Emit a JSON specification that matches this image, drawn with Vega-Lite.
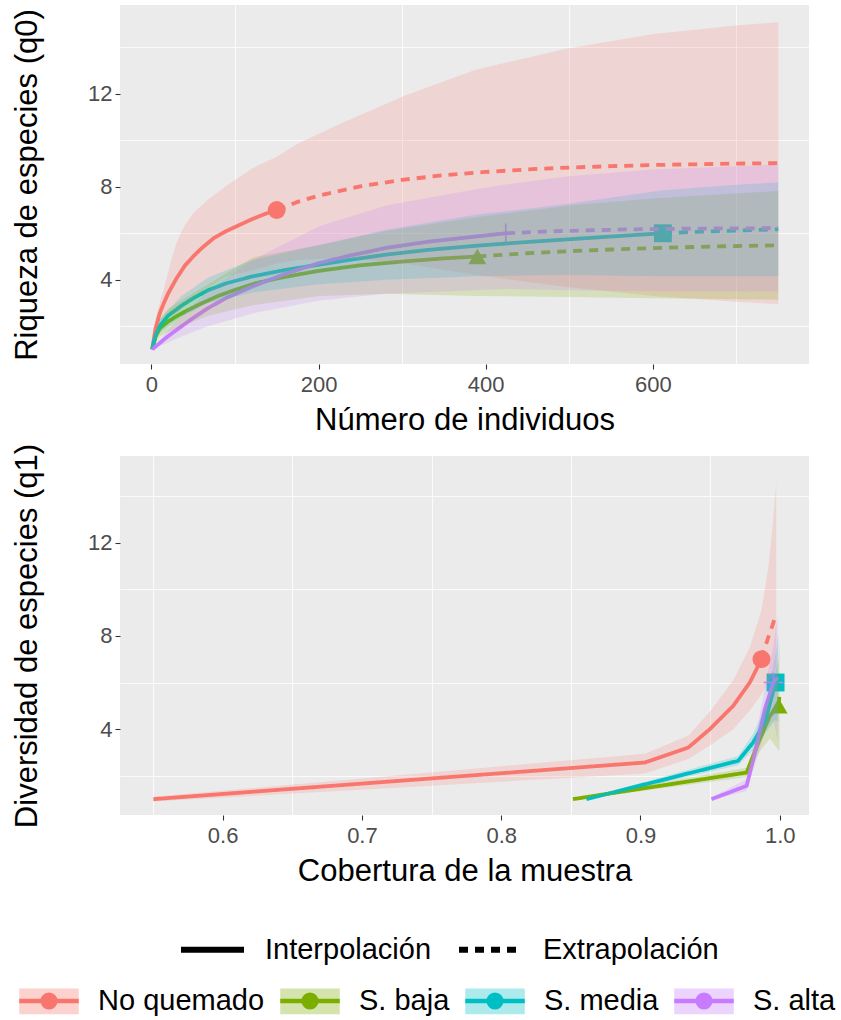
{
  "$schema": "https://vega.github.io/schema/vega-lite/v6.json",
  "background": "white",
  "padding": {"left": 11, "top": 5, "right": 5, "bottom": 0},
  "spacing": 8,
  "config": {
    "font": "Liberation Sans",
    "view": {"fill": "#EBEBEB", "stroke": null},
    "axis": {
      "domain": false,
      "gridColor": "#FFFFFF",
      "gridWidth": 1.6,
      "tickColor": "#333333",
      "tickSize": 5,
      "tickWidth": 1.1,
      "labelFont": "Liberation Sans",
      "labelFontSize": 22,
      "labelColor": "#4D4D4D",
      "titleFont": "Liberation Sans",
      "titleFontSize": 31,
      "titleFontWeight": "normal",
      "titleColor": "#000000"
    },
    "axisX": {"labelPadding": 5, "titlePadding": 10},
    "axisY": {"labelPadding": 3, "titlePadding": 44},
    "legend": {"padding": 0, "offset": 0, "labelLimit": 400}
  },
  "datasets": {
    "obs": [
      {"p": "q0", "grupo": "No quemado", "x": 150, "y": 7.0},
      {"p": "q0", "grupo": "S. baja", "x": 390, "y": 5.0},
      {"p": "q0", "grupo": "S. media", "x": 612, "y": 6.0},
      {"p": "q0", "grupo": "S. alta", "x": 424, "y": 6.0},
      {"p": "q1", "grupo": "No quemado", "x": 0.9869, "y": 7.0},
      {"p": "q1", "grupo": "S. baja", "x": 0.9992, "y": 5.0},
      {"p": "q1", "grupo": "S. media", "x": 0.997, "y": 6.0},
      {"p": "q1", "grupo": "S. alta", "x": 0.9955, "y": 6.0}
    ],
    "curvas": [
      {"p": "q0", "grupo": "No quemado", "metodo": "Interpolación", "x": 1, "y": 1.0},
      {"p": "q0", "grupo": "No quemado", "metodo": "Interpolación", "x": 5, "y": 1.9},
      {"p": "q0", "grupo": "No quemado", "metodo": "Interpolación", "x": 10, "y": 2.55},
      {"p": "q0", "grupo": "No quemado", "metodo": "Interpolación", "x": 15, "y": 3.0},
      {"p": "q0", "grupo": "No quemado", "metodo": "Interpolación", "x": 20, "y": 3.4},
      {"p": "q0", "grupo": "No quemado", "metodo": "Interpolación", "x": 30, "y": 4.05},
      {"p": "q0", "grupo": "No quemado", "metodo": "Interpolación", "x": 40, "y": 4.6},
      {"p": "q0", "grupo": "No quemado", "metodo": "Interpolación", "x": 50, "y": 5.0},
      {"p": "q0", "grupo": "No quemado", "metodo": "Interpolación", "x": 60, "y": 5.35},
      {"p": "q0", "grupo": "No quemado", "metodo": "Interpolación", "x": 75, "y": 5.8},
      {"p": "q0", "grupo": "No quemado", "metodo": "Interpolación", "x": 90, "y": 6.1},
      {"p": "q0", "grupo": "No quemado", "metodo": "Interpolación", "x": 105, "y": 6.35},
      {"p": "q0", "grupo": "No quemado", "metodo": "Interpolación", "x": 120, "y": 6.6},
      {"p": "q0", "grupo": "No quemado", "metodo": "Interpolación", "x": 135, "y": 6.82},
      {"p": "q0", "grupo": "No quemado", "metodo": "Interpolación", "x": 150, "y": 7.0},
      {"p": "q0", "grupo": "No quemado", "metodo": "Extrapolación", "x": 150, "y": 7.0},
      {"p": "q0", "grupo": "No quemado", "metodo": "Extrapolación", "x": 175, "y": 7.35},
      {"p": "q0", "grupo": "No quemado", "metodo": "Extrapolación", "x": 200, "y": 7.62},
      {"p": "q0", "grupo": "No quemado", "metodo": "Extrapolación", "x": 250, "y": 8.02},
      {"p": "q0", "grupo": "No quemado", "metodo": "Extrapolación", "x": 300, "y": 8.3},
      {"p": "q0", "grupo": "No quemado", "metodo": "Extrapolación", "x": 350, "y": 8.5},
      {"p": "q0", "grupo": "No quemado", "metodo": "Extrapolación", "x": 400, "y": 8.64},
      {"p": "q0", "grupo": "No quemado", "metodo": "Extrapolación", "x": 450, "y": 8.75},
      {"p": "q0", "grupo": "No quemado", "metodo": "Extrapolación", "x": 500, "y": 8.83},
      {"p": "q0", "grupo": "No quemado", "metodo": "Extrapolación", "x": 550, "y": 8.89},
      {"p": "q0", "grupo": "No quemado", "metodo": "Extrapolación", "x": 600, "y": 8.94},
      {"p": "q0", "grupo": "No quemado", "metodo": "Extrapolación", "x": 650, "y": 8.97},
      {"p": "q0", "grupo": "No quemado", "metodo": "Extrapolación", "x": 700, "y": 9.0},
      {"p": "q0", "grupo": "No quemado", "metodo": "Extrapolación", "x": 750, "y": 9.02},
      {"p": "q0", "grupo": "S. baja", "metodo": "Interpolación", "x": 1, "y": 1.0},
      {"p": "q0", "grupo": "S. baja", "metodo": "Interpolación", "x": 5, "y": 1.55},
      {"p": "q0", "grupo": "S. baja", "metodo": "Interpolación", "x": 10, "y": 1.9},
      {"p": "q0", "grupo": "S. baja", "metodo": "Interpolación", "x": 20, "y": 2.2},
      {"p": "q0", "grupo": "S. baja", "metodo": "Interpolación", "x": 30, "y": 2.42},
      {"p": "q0", "grupo": "S. baja", "metodo": "Interpolación", "x": 40, "y": 2.62},
      {"p": "q0", "grupo": "S. baja", "metodo": "Interpolación", "x": 60, "y": 2.98},
      {"p": "q0", "grupo": "S. baja", "metodo": "Interpolación", "x": 80, "y": 3.3},
      {"p": "q0", "grupo": "S. baja", "metodo": "Interpolación", "x": 100, "y": 3.56},
      {"p": "q0", "grupo": "S. baja", "metodo": "Interpolación", "x": 125, "y": 3.85},
      {"p": "q0", "grupo": "S. baja", "metodo": "Interpolación", "x": 150, "y": 4.05},
      {"p": "q0", "grupo": "S. baja", "metodo": "Interpolación", "x": 175, "y": 4.22},
      {"p": "q0", "grupo": "S. baja", "metodo": "Interpolación", "x": 200, "y": 4.38},
      {"p": "q0", "grupo": "S. baja", "metodo": "Interpolación", "x": 250, "y": 4.62},
      {"p": "q0", "grupo": "S. baja", "metodo": "Interpolación", "x": 300, "y": 4.78},
      {"p": "q0", "grupo": "S. baja", "metodo": "Interpolación", "x": 350, "y": 4.92},
      {"p": "q0", "grupo": "S. baja", "metodo": "Interpolación", "x": 390, "y": 5.0},
      {"p": "q0", "grupo": "S. baja", "metodo": "Extrapolación", "x": 390, "y": 5.0},
      {"p": "q0", "grupo": "S. baja", "metodo": "Extrapolación", "x": 450, "y": 5.14},
      {"p": "q0", "grupo": "S. baja", "metodo": "Extrapolación", "x": 500, "y": 5.23},
      {"p": "q0", "grupo": "S. baja", "metodo": "Extrapolación", "x": 550, "y": 5.3},
      {"p": "q0", "grupo": "S. baja", "metodo": "Extrapolación", "x": 600, "y": 5.36},
      {"p": "q0", "grupo": "S. baja", "metodo": "Extrapolación", "x": 650, "y": 5.41},
      {"p": "q0", "grupo": "S. baja", "metodo": "Extrapolación", "x": 700, "y": 5.45},
      {"p": "q0", "grupo": "S. baja", "metodo": "Extrapolación", "x": 750, "y": 5.48},
      {"p": "q0", "grupo": "S. media", "metodo": "Interpolación", "x": 1, "y": 1.0},
      {"p": "q0", "grupo": "S. media", "metodo": "Interpolación", "x": 5, "y": 1.6},
      {"p": "q0", "grupo": "S. media", "metodo": "Interpolación", "x": 10, "y": 2.0},
      {"p": "q0", "grupo": "S. media", "metodo": "Interpolación", "x": 20, "y": 2.45},
      {"p": "q0", "grupo": "S. media", "metodo": "Interpolación", "x": 36, "y": 2.88},
      {"p": "q0", "grupo": "S. media", "metodo": "Interpolación", "x": 50, "y": 3.2},
      {"p": "q0", "grupo": "S. media", "metodo": "Interpolación", "x": 68, "y": 3.55},
      {"p": "q0", "grupo": "S. media", "metodo": "Interpolación", "x": 90, "y": 3.85},
      {"p": "q0", "grupo": "S. media", "metodo": "Interpolación", "x": 121, "y": 4.14},
      {"p": "q0", "grupo": "S. media", "metodo": "Interpolación", "x": 160, "y": 4.42},
      {"p": "q0", "grupo": "S. media", "metodo": "Interpolación", "x": 201, "y": 4.65},
      {"p": "q0", "grupo": "S. media", "metodo": "Interpolación", "x": 240, "y": 4.87},
      {"p": "q0", "grupo": "S. media", "metodo": "Interpolación", "x": 281, "y": 5.08},
      {"p": "q0", "grupo": "S. media", "metodo": "Interpolación", "x": 330, "y": 5.28},
      {"p": "q0", "grupo": "S. media", "metodo": "Interpolación", "x": 388, "y": 5.46},
      {"p": "q0", "grupo": "S. media", "metodo": "Interpolación", "x": 440, "y": 5.6},
      {"p": "q0", "grupo": "S. media", "metodo": "Interpolación", "x": 495, "y": 5.73},
      {"p": "q0", "grupo": "S. media", "metodo": "Interpolación", "x": 550, "y": 5.86},
      {"p": "q0", "grupo": "S. media", "metodo": "Interpolación", "x": 612, "y": 6.0},
      {"p": "q0", "grupo": "S. media", "metodo": "Extrapolación", "x": 612, "y": 6.0},
      {"p": "q0", "grupo": "S. media", "metodo": "Extrapolación", "x": 650, "y": 6.06},
      {"p": "q0", "grupo": "S. media", "metodo": "Extrapolación", "x": 700, "y": 6.12},
      {"p": "q0", "grupo": "S. media", "metodo": "Extrapolación", "x": 750, "y": 6.17},
      {"p": "q0", "grupo": "S. alta", "metodo": "Interpolación", "x": 1, "y": 1.0},
      {"p": "q0", "grupo": "S. alta", "metodo": "Interpolación", "x": 10, "y": 1.27},
      {"p": "q0", "grupo": "S. alta", "metodo": "Interpolación", "x": 20, "y": 1.57},
      {"p": "q0", "grupo": "S. alta", "metodo": "Interpolación", "x": 36, "y": 1.99},
      {"p": "q0", "grupo": "S. alta", "metodo": "Interpolación", "x": 50, "y": 2.35},
      {"p": "q0", "grupo": "S. alta", "metodo": "Interpolación", "x": 68, "y": 2.78},
      {"p": "q0", "grupo": "S. alta", "metodo": "Interpolación", "x": 90, "y": 3.22},
      {"p": "q0", "grupo": "S. alta", "metodo": "Interpolación", "x": 121, "y": 3.71},
      {"p": "q0", "grupo": "S. alta", "metodo": "Interpolación", "x": 160, "y": 4.25},
      {"p": "q0", "grupo": "S. alta", "metodo": "Interpolación", "x": 201, "y": 4.72},
      {"p": "q0", "grupo": "S. alta", "metodo": "Interpolación", "x": 240, "y": 5.06},
      {"p": "q0", "grupo": "S. alta", "metodo": "Interpolación", "x": 281, "y": 5.37},
      {"p": "q0", "grupo": "S. alta", "metodo": "Interpolación", "x": 330, "y": 5.63},
      {"p": "q0", "grupo": "S. alta", "metodo": "Interpolación", "x": 388, "y": 5.86},
      {"p": "q0", "grupo": "S. alta", "metodo": "Interpolación", "x": 424, "y": 6.0},
      {"p": "q0", "grupo": "S. alta", "metodo": "Extrapolación", "x": 424, "y": 6.0},
      {"p": "q0", "grupo": "S. alta", "metodo": "Extrapolación", "x": 475, "y": 6.08},
      {"p": "q0", "grupo": "S. alta", "metodo": "Extrapolación", "x": 525, "y": 6.13},
      {"p": "q0", "grupo": "S. alta", "metodo": "Extrapolación", "x": 575, "y": 6.17},
      {"p": "q0", "grupo": "S. alta", "metodo": "Extrapolación", "x": 650, "y": 6.2},
      {"p": "q0", "grupo": "S. alta", "metodo": "Extrapolación", "x": 750, "y": 6.22},
      {"p": "q1", "grupo": "No quemado", "metodo": "Interpolación", "x": 0.5503, "y": 1.0},
      {"p": "q1", "grupo": "No quemado", "metodo": "Interpolación", "x": 0.9032, "y": 2.57},
      {"p": "q1", "grupo": "No quemado", "metodo": "Interpolación", "x": 0.9343, "y": 3.21},
      {"p": "q1", "grupo": "No quemado", "metodo": "Interpolación", "x": 0.9498, "y": 4.0},
      {"p": "q1", "grupo": "No quemado", "metodo": "Interpolación", "x": 0.9666, "y": 5.0},
      {"p": "q1", "grupo": "No quemado", "metodo": "Interpolación", "x": 0.9785, "y": 6.0},
      {"p": "q1", "grupo": "No quemado", "metodo": "Interpolación", "x": 0.9869, "y": 7.0},
      {"p": "q1", "grupo": "No quemado", "metodo": "Extrapolación", "x": 0.9869, "y": 7.0},
      {"p": "q1", "grupo": "No quemado", "metodo": "Extrapolación", "x": 0.9917, "y": 7.93},
      {"p": "q1", "grupo": "No quemado", "metodo": "Extrapolación", "x": 0.9948, "y": 8.45},
      {"p": "q1", "grupo": "No quemado", "metodo": "Extrapolación", "x": 0.9975, "y": 8.95},
      {"p": "q1", "grupo": "S. baja", "metodo": "Interpolación", "x": 0.8515, "y": 1.0},
      {"p": "q1", "grupo": "S. baja", "metodo": "Interpolación", "x": 0.9762, "y": 2.14},
      {"p": "q1", "grupo": "S. baja", "metodo": "Interpolación", "x": 0.9857, "y": 3.57},
      {"p": "q1", "grupo": "S. baja", "metodo": "Interpolación", "x": 0.9929, "y": 4.57},
      {"p": "q1", "grupo": "S. baja", "metodo": "Interpolación", "x": 0.9992, "y": 5.0},
      {"p": "q1", "grupo": "S. baja", "metodo": "Extrapolación", "x": 0.9992, "y": 5.0},
      {"p": "q1", "grupo": "S. baja", "metodo": "Extrapolación", "x": 0.9998, "y": 5.48},
      {"p": "q1", "grupo": "S. media", "metodo": "Interpolación", "x": 0.8612, "y": 1.0},
      {"p": "q1", "grupo": "S. media", "metodo": "Interpolación", "x": 0.9701, "y": 2.64},
      {"p": "q1", "grupo": "S. media", "metodo": "Interpolación", "x": 0.9809, "y": 3.43},
      {"p": "q1", "grupo": "S. media", "metodo": "Interpolación", "x": 0.9893, "y": 4.29},
      {"p": "q1", "grupo": "S. media", "metodo": "Interpolación", "x": 0.997, "y": 6.0},
      {"p": "q1", "grupo": "S. media", "metodo": "Extrapolación", "x": 0.997, "y": 6.0},
      {"p": "q1", "grupo": "S. media", "metodo": "Extrapolación", "x": 0.999, "y": 6.17},
      {"p": "q1", "grupo": "S. alta", "metodo": "Interpolación", "x": 0.951, "y": 1.0},
      {"p": "q1", "grupo": "S. alta", "metodo": "Interpolación", "x": 0.9762, "y": 1.57},
      {"p": "q1", "grupo": "S. alta", "metodo": "Interpolación", "x": 0.9834, "y": 3.28},
      {"p": "q1", "grupo": "S. alta", "metodo": "Interpolación", "x": 0.9893, "y": 4.86},
      {"p": "q1", "grupo": "S. alta", "metodo": "Interpolación", "x": 0.9955, "y": 6.0},
      {"p": "q1", "grupo": "S. alta", "metodo": "Extrapolación", "x": 0.9955, "y": 6.0},
      {"p": "q1", "grupo": "S. alta", "metodo": "Extrapolación", "x": 0.9985, "y": 6.22}
    ],
    "bandas": [
      {"p": "q0", "grupo": "No quemado", "x": 1, "lo": 1.0, "hi": 1.0},
      {"p": "q0", "grupo": "No quemado", "x": 5, "lo": 1.5, "hi": 2.3},
      {"p": "q0", "grupo": "No quemado", "x": 10, "lo": 2.1, "hi": 3.0},
      {"p": "q0", "grupo": "No quemado", "x": 15, "lo": 2.4, "hi": 3.6},
      {"p": "q0", "grupo": "No quemado", "x": 20, "lo": 2.5, "hi": 4.3},
      {"p": "q0", "grupo": "No quemado", "x": 25, "lo": 2.5, "hi": 5.0},
      {"p": "q0", "grupo": "No quemado", "x": 30, "lo": 2.55, "hi": 5.55},
      {"p": "q0", "grupo": "No quemado", "x": 35, "lo": 2.7, "hi": 6.0},
      {"p": "q0", "grupo": "No quemado", "x": 41, "lo": 2.9, "hi": 6.4},
      {"p": "q0", "grupo": "No quemado", "x": 50, "lo": 3.15, "hi": 6.85},
      {"p": "q0", "grupo": "No quemado", "x": 60, "lo": 3.5, "hi": 7.2},
      {"p": "q0", "grupo": "No quemado", "x": 68, "lo": 3.65, "hi": 7.45},
      {"p": "q0", "grupo": "No quemado", "x": 90, "lo": 4.15, "hi": 8.05},
      {"p": "q0", "grupo": "No quemado", "x": 121, "lo": 4.4, "hi": 8.8},
      {"p": "q0", "grupo": "No quemado", "x": 150, "lo": 4.7, "hi": 9.3},
      {"p": "q0", "grupo": "No quemado", "x": 175, "lo": 4.85, "hi": 9.85},
      {"p": "q0", "grupo": "No quemado", "x": 228, "lo": 4.95, "hi": 10.75},
      {"p": "q0", "grupo": "No quemado", "x": 303, "lo": 4.7, "hi": 11.92},
      {"p": "q0", "grupo": "No quemado", "x": 388, "lo": 4.2, "hi": 13.04},
      {"p": "q0", "grupo": "No quemado", "x": 495, "lo": 3.7, "hi": 13.94},
      {"p": "q0", "grupo": "No quemado", "x": 601, "lo": 3.3, "hi": 14.58},
      {"p": "q0", "grupo": "No quemado", "x": 700, "lo": 3.05, "hi": 14.95},
      {"p": "q0", "grupo": "No quemado", "x": 750, "lo": 2.95, "hi": 15.09},
      {"p": "q0", "grupo": "S. baja", "x": 1, "lo": 1.0, "hi": 1.0},
      {"p": "q0", "grupo": "S. baja", "x": 10, "lo": 1.55, "hi": 2.25},
      {"p": "q0", "grupo": "S. baja", "x": 20, "lo": 1.75, "hi": 2.75},
      {"p": "q0", "grupo": "S. baja", "x": 40, "lo": 2.05, "hi": 3.2},
      {"p": "q0", "grupo": "S. baja", "x": 68, "lo": 2.45, "hi": 3.8},
      {"p": "q0", "grupo": "S. baja", "x": 121, "lo": 2.9, "hi": 4.95},
      {"p": "q0", "grupo": "S. baja", "x": 201, "lo": 3.3, "hi": 5.5},
      {"p": "q0", "grupo": "S. baja", "x": 281, "lo": 3.4, "hi": 6.1},
      {"p": "q0", "grupo": "S. baja", "x": 390, "lo": 3.3, "hi": 6.7},
      {"p": "q0", "grupo": "S. baja", "x": 500, "lo": 3.25, "hi": 7.2},
      {"p": "q0", "grupo": "S. baja", "x": 600, "lo": 3.2, "hi": 7.5},
      {"p": "q0", "grupo": "S. baja", "x": 750, "lo": 3.14, "hi": 7.82},
      {"p": "q0", "grupo": "S. media", "x": 1, "lo": 1.0, "hi": 1.0},
      {"p": "q0", "grupo": "S. media", "x": 10, "lo": 1.7, "hi": 2.3},
      {"p": "q0", "grupo": "S. media", "x": 36, "lo": 2.4, "hi": 3.3},
      {"p": "q0", "grupo": "S. media", "x": 68, "lo": 3.0, "hi": 4.1},
      {"p": "q0", "grupo": "S. media", "x": 121, "lo": 3.45, "hi": 4.85},
      {"p": "q0", "grupo": "S. media", "x": 201, "lo": 3.8, "hi": 5.5},
      {"p": "q0", "grupo": "S. media", "x": 281, "lo": 4.0, "hi": 6.15},
      {"p": "q0", "grupo": "S. media", "x": 388, "lo": 4.15, "hi": 6.8},
      {"p": "q0", "grupo": "S. media", "x": 495, "lo": 4.2, "hi": 7.25},
      {"p": "q0", "grupo": "S. media", "x": 612, "lo": 4.15, "hi": 7.85},
      {"p": "q0", "grupo": "S. media", "x": 700, "lo": 4.15, "hi": 8.09},
      {"p": "q0", "grupo": "S. media", "x": 750, "lo": 4.15, "hi": 8.19},
      {"p": "q0", "grupo": "S. alta", "x": 1, "lo": 1.0, "hi": 1.0},
      {"p": "q0", "grupo": "S. alta", "x": 20, "lo": 1.3, "hi": 1.85},
      {"p": "q0", "grupo": "S. alta", "x": 36, "lo": 1.55, "hi": 2.45},
      {"p": "q0", "grupo": "S. alta", "x": 68, "lo": 2.0, "hi": 3.55},
      {"p": "q0", "grupo": "S. alta", "x": 121, "lo": 2.55, "hi": 4.85},
      {"p": "q0", "grupo": "S. alta", "x": 201, "lo": 3.1, "hi": 6.3},
      {"p": "q0", "grupo": "S. alta", "x": 281, "lo": 3.4, "hi": 7.2},
      {"p": "q0", "grupo": "S. alta", "x": 388, "lo": 3.55, "hi": 7.9},
      {"p": "q0", "grupo": "S. alta", "x": 424, "lo": 3.6, "hi": 8.1},
      {"p": "q0", "grupo": "S. alta", "x": 500, "lo": 3.55, "hi": 8.45},
      {"p": "q0", "grupo": "S. alta", "x": 600, "lo": 3.5, "hi": 8.75},
      {"p": "q0", "grupo": "S. alta", "x": 750, "lo": 3.49, "hi": 8.95},
      {"p": "q1", "grupo": "No quemado", "x": 0.5503, "lo": 0.9, "hi": 1.1},
      {"p": "q1", "grupo": "No quemado", "x": 0.9032, "lo": 2.1, "hi": 2.95},
      {"p": "q1", "grupo": "No quemado", "x": 0.9343, "lo": 2.72, "hi": 3.72},
      {"p": "q1", "grupo": "No quemado", "x": 0.9498, "lo": 3.3, "hi": 4.75},
      {"p": "q1", "grupo": "No quemado", "x": 0.9666, "lo": 4.0, "hi": 6.1},
      {"p": "q1", "grupo": "No quemado", "x": 0.9785, "lo": 4.8, "hi": 7.5},
      {"p": "q1", "grupo": "No quemado", "x": 0.9869, "lo": 5.5, "hi": 9.1},
      {"p": "q1", "grupo": "No quemado", "x": 0.9917, "lo": 6.0, "hi": 10.9},
      {"p": "q1", "grupo": "No quemado", "x": 0.9948, "lo": 6.3, "hi": 12.6},
      {"p": "q1", "grupo": "No quemado", "x": 0.9975, "lo": 6.7, "hi": 14.6},
      {"p": "q1", "grupo": "S. baja", "x": 0.8515, "lo": 0.95, "hi": 1.05},
      {"p": "q1", "grupo": "S. baja", "x": 0.9762, "lo": 1.95, "hi": 2.35},
      {"p": "q1", "grupo": "S. baja", "x": 0.9857, "lo": 3.05, "hi": 4.05},
      {"p": "q1", "grupo": "S. baja", "x": 0.9929, "lo": 3.6, "hi": 5.5},
      {"p": "q1", "grupo": "S. baja", "x": 0.9992, "lo": 3.1, "hi": 7.0},
      {"p": "q1", "grupo": "S. baja", "x": 0.9998, "lo": 3.1, "hi": 7.8},
      {"p": "q1", "grupo": "S. media", "x": 0.8612, "lo": 0.95, "hi": 1.05},
      {"p": "q1", "grupo": "S. media", "x": 0.9701, "lo": 2.45, "hi": 2.85},
      {"p": "q1", "grupo": "S. media", "x": 0.9809, "lo": 3.1, "hi": 3.8},
      {"p": "q1", "grupo": "S. media", "x": 0.9893, "lo": 3.8, "hi": 4.9},
      {"p": "q1", "grupo": "S. media", "x": 0.997, "lo": 4.4, "hi": 7.2},
      {"p": "q1", "grupo": "S. media", "x": 0.999, "lo": 4.3, "hi": 8.1},
      {"p": "q1", "grupo": "S. alta", "x": 0.951, "lo": 0.95, "hi": 1.08},
      {"p": "q1", "grupo": "S. alta", "x": 0.9762, "lo": 1.35, "hi": 1.85},
      {"p": "q1", "grupo": "S. alta", "x": 0.9834, "lo": 2.7, "hi": 3.9},
      {"p": "q1", "grupo": "S. alta", "x": 0.9893, "lo": 3.9, "hi": 5.8},
      {"p": "q1", "grupo": "S. alta", "x": 0.9955, "lo": 4.4, "hi": 7.6},
      {"p": "q1", "grupo": "S. alta", "x": 0.9985, "lo": 3.5, "hi": 8.9}
    ]
  },
  "vconcat": [
    {
      "width": 689,
      "height": 359,
      "layer": [
        {
          "data": {"name": "obs"},
          "transform": [{"filter": "datum.p == 'q0'"}],
          "mark": {"type": "point", "filled": true, "size": 320, "opacity": 1},
          "encoding": {
            "x": {"field": "x", "type": "quantitative", "scale": {"domain": [-37.5, 786.8], "nice": false, "zero": false},
                  "axis": {"orient": "top", "values": [100, 300, 500, 700], "labels": false, "ticks": false, "domain": false, "title": null, "gridWidth": 0.8, "minExtent": 0}},
            "y": {"field": "y", "type": "quantitative", "scale": {"domain": [0.37, 15.83], "nice": false, "zero": false},
                  "axis": {"orient": "right", "values": [2, 6, 10, 14], "labels": false, "ticks": false, "domain": false, "title": null, "gridWidth": 0.8, "minExtent": 0}},
            "color": {"field": "grupo", "type": "nominal", "legend": null,
                      "scale": {"domain": ["No quemado", "S. baja", "S. media", "S. alta"], "range": ["#F8766D", "#7CAE00", "#00BFC4", "#C77CFF"]}},
            "shape": {"field": "grupo", "type": "nominal", "legend": null,
                      "scale": {"domain": ["No quemado", "S. baja", "S. media", "S. alta"], "range": ["circle", "triangle-up", "square", "M-1.1,-0.09H1.1V0.09H-1.1Z M-0.09,-1.1H0.09V1.1H-0.09Z"]}}
          }
        },
        {
          "data": {"name": "curvas"},
          "transform": [{"filter": "datum.p == 'q0'"}],
          "mark": {"type": "line", "strokeWidth": 3.8, "strokeCap": "butt"},
          "encoding": {
            "x": {"field": "x", "type": "quantitative", "axis": {"orient": "bottom", "values": [0, 200, 400, 600], "title": "Número de individuos"}},
            "y": {"field": "y", "type": "quantitative", "axis": {"orient": "left", "values": [4, 8, 12], "title": "Riqueza de especies (q0)"}},
            "stroke": {"field": "grupo", "type": "nominal", "sort": ["No quemado", "S. baja", "S. media", "S. alta"],
                       "scale": {"range": ["#F8766D", "#7CAE00", "#00BFC4", "#C77CFF"]},
                       "legend": {"orient": "none", "direction": "horizontal", "legendX": -101, "legendY": 966, "title": null, "zindex": 2,
                                  "symbolType": "M-1,-0.05H1V0.05H-1Z M0.27,0A0.27,0.27 0 1,1 -0.27,0A0.27,0.27 0 1,1 0.27,0Z",
                                  "symbolSize": 3364, "symbolStrokeWidth": 1.5, "symbolOpacity": 1,
                                  "symbolFillColor": {"expr": "scale('stroke', datum.value)"},
                                  "labelFontSize": 29, "labelFont": "Liberation Sans", "labelColor": "#000000",
                                  "labelOffset": 19, "columnPadding": 13, "labelOpacity": 0}},
            "strokeDash": {"field": "metodo", "type": "nominal",
                           "scale": {"domain": ["Interpolación", "Extrapolación"], "range": [[1, 0], [9, 7]]},
                           "legend": {"orient": "none", "direction": "horizontal", "legendX": 58, "legendY": 910, "title": null,
                                      "symbolType": "stroke", "symbolSize": 3969, "symbolStrokeWidth": 6, "symbolStrokeColor": "#000000",
                                      "labelFontSize": 29, "labelFont": "Liberation Sans", "labelColor": "#000000", "labelOffset": 18, "columnPadding": 15}}
          }
        },
        {
          "data": {"name": "bandas"},
          "transform": [{"filter": "datum.p == 'q0'"}],
          "mark": {"type": "area", "fillOpacity": 0.2},
          "encoding": {
            "x": {"field": "x", "type": "quantitative", "axis": null},
            "y": {"field": "lo", "type": "quantitative", "axis": null},
            "y2": {"field": "hi"},
            "fill": {"field": "grupo", "type": "nominal", "sort": ["No quemado", "S. baja", "S. media", "S. alta"],
                     "scale": {"range": ["#F8766D", "#7CAE00", "#00BFC4", "#C77CFF"]},
                     "legend": {"orient": "none", "direction": "horizontal", "legendX": -101, "legendY": 966, "title": null, "zindex": 1,
                                "symbolType": "M-1,-0.42H1V0.42H-1Z", "symbolSize": 3364, "symbolStrokeWidth": 1.5, "symbolOpacity": 0.32,
                                "symbolStrokeColor": {"expr": "scale('fill', datum.value)"},
                                "labelFontSize": 29, "labelFont": "Liberation Sans", "labelColor": "#000000", "labelOffset": 19, "columnPadding": 13}}
          }
        }
      ]
    },
    {
      "width": 689,
      "height": 359,
      "layer": [
        {
          "data": {"name": "obs"},
          "transform": [{"filter": "datum.p == 'q1'"}],
          "mark": {"type": "point", "filled": true, "size": 320, "opacity": 1},
          "encoding": {
            "x": {"field": "x", "type": "quantitative", "scale": {"domain": [0.5263, 1.021], "nice": false, "zero": false},
                  "axis": {"orient": "top", "values": [0.55, 0.65, 0.75, 0.85, 0.95], "labels": false, "ticks": false, "domain": false, "title": null, "gridWidth": 0.8, "minExtent": 0}},
            "y": {"field": "y", "type": "quantitative", "scale": {"domain": [0.32, 15.71], "nice": false, "zero": false},
                  "axis": {"orient": "right", "values": [2, 6, 10, 14], "labels": false, "ticks": false, "domain": false, "title": null, "gridWidth": 0.8, "minExtent": 0}},
            "color": {"field": "grupo", "type": "nominal", "legend": null,
                      "scale": {"domain": ["No quemado", "S. baja", "S. media", "S. alta"], "range": ["#F8766D", "#7CAE00", "#00BFC4", "#C77CFF"]}},
            "shape": {"field": "grupo", "type": "nominal", "legend": null,
                      "scale": {"domain": ["No quemado", "S. baja", "S. media", "S. alta"], "range": ["circle", "triangle-up", "square", "M-1.1,-0.09H1.1V0.09H-1.1Z M-0.09,-1.1H0.09V1.1H-0.09Z"]}}
          }
        },
        {
          "data": {"name": "curvas"},
          "transform": [{"filter": "datum.p == 'q1'"}],
          "mark": {"type": "line", "strokeWidth": 3.8, "strokeCap": "butt"},
          "encoding": {
            "x": {"field": "x", "type": "quantitative", "axis": {"orient": "bottom", "values": [0.6, 0.7, 0.8, 0.9, 1.0], "format": ".1f", "title": "Cobertura de la muestra"}},
            "y": {"field": "y", "type": "quantitative", "axis": {"orient": "left", "values": [4, 8, 12], "title": "Diversidad de especies (q1)"}},
            "stroke": {"field": "grupo", "type": "nominal", "sort": ["No quemado", "S. baja", "S. media", "S. alta"],
                       "scale": {"range": ["#F8766D", "#7CAE00", "#00BFC4", "#C77CFF"]}, "legend": null},
            "strokeDash": {"field": "metodo", "type": "nominal",
                           "scale": {"domain": ["Interpolación", "Extrapolación"], "range": [[1, 0], [9, 7]]}, "legend": null}
          }
        },
        {
          "data": {"name": "bandas"},
          "transform": [{"filter": "datum.p == 'q1'"}],
          "mark": {"type": "area", "fillOpacity": 0.2},
          "encoding": {
            "x": {"field": "x", "type": "quantitative", "axis": null},
            "y": {"field": "lo", "type": "quantitative", "axis": null},
            "y2": {"field": "hi"},
            "fill": {"field": "grupo", "type": "nominal", "sort": ["No quemado", "S. baja", "S. media", "S. alta"],
                     "scale": {"range": ["#F8766D", "#7CAE00", "#00BFC4", "#C77CFF"]}, "legend": null}
          }
        }
      ]
    }
  ]
}
